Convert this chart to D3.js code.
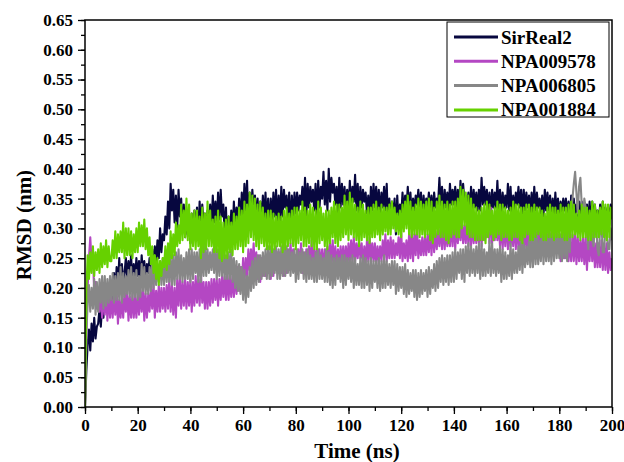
<!DOCTYPE html>
<html><head><meta charset="utf-8">
<script src="https://cdn.jsdelivr.net/npm/d3@7"></script>
<style>body{margin:0;background:#fff}svg{display:block}</style>
</head><body>
<svg id="c" width="624" height="462"></svg>
<script>
// time axis: one sample every 0.5 ns, 0..200
const timeStart = 0, timeStep = 0.5;
const seriesNames = ["SirReal2", "NPA009578", "NPA006805", "NPA001884"];
const xTicks = [0,20,40,60,80,100,120,140,160,180,200];
const yTicks = [0.00,0.05,0.10,0.15,0.20,0.25,0.30,0.35,0.40,0.45,0.50,0.55,0.60,0.65];

const sirReal2 = [
0.000,0.06,0.105,0.13,0.095,0.14,0.11,0.15,0.115,0.135,0.14,0.165,0.135,0.17,0.15,0.185,0.16,0.19,0.17,0.20,
0.205,0.18,0.225,0.19,0.235,0.2,0.25,0.205,0.24,0.21,0.225,0.25,0.215,0.245,0.22,0.255,0.205,0.24,0.215,0.25,
0.22,0.245,0.21,0.255,0.225,0.245,0.215,0.24,0.225,0.25,0.21,0.265,0.235,0.27,0.245,0.28,0.25,0.30,0.26,0.29,
0.28,0.32,0.29,0.345,0.30,0.375,0.33,0.365,0.31,0.355,0.30,0.365,0.32,0.35,0.295,0.34,0.285,0.32,0.29,0.315,
0.275,0.325,0.285,0.33,0.30,0.335,0.28,0.345,0.295,0.34,0.31,0.325,0.29,0.33,0.295,0.34,0.30,0.355,0.31,0.345,
0.30,0.36,0.315,0.365,0.32,0.34,0.29,0.335,0.265,0.32,0.28,0.33,0.29,0.345,0.30,0.335,0.305,0.35,0.31,0.36,
0.32,0.375,0.33,0.38,0.305,0.36,0.315,0.365,0.33,0.355,0.31,0.35,0.30,0.345,0.31,0.355,0.315,0.36,0.305,0.35,
0.30,0.35,0.31,0.36,0.32,0.365,0.31,0.355,0.31,0.37,0.32,0.365,0.335,0.355,0.315,0.36,0.30,0.355,0.315,0.36,
0.325,0.36,0.33,0.355,0.34,0.37,0.33,0.385,0.32,0.375,0.335,0.37,0.345,0.365,0.33,0.375,0.32,0.38,0.335,0.37,
0.35,0.395,0.34,0.38,0.33,0.40,0.345,0.385,0.36,0.375,0.34,0.37,0.325,0.385,0.335,0.375,0.34,0.37,0.33,0.365,
0.325,0.38,0.335,0.37,0.345,0.39,0.33,0.375,0.32,0.37,0.335,0.365,0.345,0.36,0.325,0.355,0.315,0.37,0.33,0.375,
0.335,0.37,0.33,0.365,0.32,0.36,0.335,0.37,0.33,0.375,0.31,0.35,0.30,0.345,0.32,0.35,0.29,0.355,0.31,0.34,
0.32,0.36,0.325,0.355,0.335,0.37,0.325,0.36,0.32,0.35,0.33,0.355,0.34,0.365,0.33,0.36,0.315,0.355,0.325,0.35,
0.335,0.36,0.33,0.355,0.325,0.36,0.335,0.35,0.34,0.385,0.335,0.37,0.32,0.365,0.335,0.36,0.33,0.375,0.34,0.365,
0.34,0.37,0.335,0.365,0.325,0.38,0.34,0.375,0.345,0.355,0.33,0.36,0.32,0.37,0.33,0.365,0.335,0.36,0.33,0.365,
0.33,0.385,0.34,0.37,0.34,0.365,0.33,0.36,0.32,0.365,0.335,0.36,0.335,0.38,0.33,0.365,0.325,0.36,0.335,0.355,
0.335,0.375,0.33,0.37,0.32,0.355,0.33,0.36,0.34,0.37,0.335,0.365,0.325,0.365,0.33,0.36,0.335,0.355,0.325,0.36,
0.325,0.37,0.33,0.36,0.335,0.35,0.325,0.355,0.32,0.365,0.33,0.36,0.33,0.355,0.32,0.35,0.315,0.36,0.325,0.35,
0.32,0.345,0.325,0.35,0.33,0.35,0.32,0.345,0.305,0.355,0.315,0.35,0.325,0.34,0.32,0.345,0.31,0.345,0.315,0.34,
0.32,0.34,0.31,0.345,0.305,0.345,0.315,0.34,0.315,0.33,0.31,0.34,0.31,0.345,0.315,0.335,0.32,0.335,0.315,0.34,
0.325];

const npa009578 = [
0.000,0.12,0.20,0.25,0.285,0.245,0.26,0.19,0.21,0.165,0.20,0.16,0.195,0.15,0.19,0.155,0.195,0.145,0.19,0.15,
0.185,0.15,0.19,0.155,0.195,0.14,0.18,0.15,0.185,0.15,0.195,0.16,0.20,0.145,0.185,0.15,0.19,0.15,0.185,0.15,
0.19,0.155,0.195,0.16,0.205,0.145,0.19,0.15,0.19,0.16,0.20,0.165,0.21,0.15,0.195,0.16,0.205,0.16,0.20,0.165,
0.20,0.16,0.205,0.165,0.215,0.16,0.205,0.155,0.20,0.15,0.215,0.17,0.22,0.165,0.21,0.17,0.215,0.165,0.21,0.17,
0.215,0.16,0.21,0.17,0.22,0.175,0.215,0.17,0.225,0.175,0.21,0.165,0.21,0.165,0.21,0.17,0.215,0.175,0.215,0.18,
0.215,0.17,0.215,0.18,0.22,0.185,0.22,0.18,0.225,0.18,0.22,0.185,0.22,0.185,0.225,0.19,0.235,0.195,0.235,0.20,
0.25,0.21,0.25,0.215,0.265,0.23,0.265,0.235,0.275,0.225,0.26,0.215,0.255,0.21,0.25,0.22,0.25,0.22,0.25,0.225,
0.25,0.215,0.255,0.22,0.265,0.23,0.26,0.225,0.26,0.225,0.265,0.22,0.265,0.225,0.265,0.23,0.275,0.235,0.265,0.23,
0.255,0.225,0.265,0.23,0.275,0.225,0.26,0.23,0.265,0.23,0.27,0.235,0.28,0.23,0.265,0.235,0.27,0.23,0.265,0.235,
0.265,0.23,0.265,0.235,0.27,0.235,0.275,0.24,0.28,0.235,0.27,0.235,0.265,0.24,0.27,0.24,0.27,0.235,0.27,0.24,
0.275,0.24,0.28,0.245,0.285,0.245,0.275,0.25,0.28,0.25,0.275,0.235,0.27,0.24,0.28,0.245,0.285,0.245,0.275,0.245,
0.275,0.24,0.27,0.245,0.27,0.245,0.28,0.25,0.29,0.245,0.28,0.25,0.285,0.25,0.28,0.25,0.275,0.255,0.285,0.25,
0.295,0.245,0.275,0.25,0.28,0.245,0.29,0.25,0.295,0.245,0.29,0.255,0.305,0.25,0.28,0.255,0.285,0.255,0.285,0.255,
0.29,0.26,0.30,0.255,0.305,0.26,0.295,0.265,0.30,0.27,0.305,0.265,0.31,0.265,0.30,0.27,0.30,0.27,0.31,0.27,
0.315,0.265,0.305,0.275,0.31,0.28,0.31,0.275,0.305,0.275,0.32,0.27,0.325,0.27,0.31,0.275,0.305,0.275,0.315,0.275,
0.32,0.27,0.315,0.28,0.32,0.285,0.325,0.275,0.335,0.275,0.315,0.28,0.315,0.28,0.31,0.27,0.31,0.265,0.31,0.27,
0.315,0.265,0.305,0.27,0.30,0.27,0.31,0.265,0.315,0.265,0.30,0.26,0.295,0.265,0.305,0.265,0.305,0.26,0.30,0.265,
0.305,0.255,0.30,0.265,0.30,0.27,0.30,0.26,0.295,0.255,0.295,0.26,0.30,0.26,0.295,0.26,0.295,0.265,0.295,0.26,
0.29,0.245,0.29,0.25,0.295,0.25,0.285,0.245,0.28,0.245,0.29,0.245,0.295,0.24,0.285,0.245,0.28,0.245,0.285,0.24,
0.285,0.23,0.28,0.245,0.29,0.245,0.28,0.235,0.275,0.235,0.275,0.235,0.28,0.23,0.275,0.23,0.275,0.225,0.26,0.23,
0.25];

const npa006805 = [
0.000,0.12,0.175,0.205,0.16,0.20,0.165,0.215,0.155,0.21,0.16,0.215,0.175,0.22,0.165,0.22,0.17,0.215,0.175,0.22,
0.18,0.225,0.175,0.22,0.18,0.225,0.18,0.235,0.175,0.225,0.185,0.22,0.19,0.23,0.185,0.235,0.18,0.225,0.185,0.23,
0.18,0.22,0.185,0.24,0.195,0.235,0.19,0.225,0.19,0.235,0.195,0.245,0.20,0.24,0.205,0.24,0.21,0.245,0.205,0.25,
0.205,0.255,0.21,0.25,0.21,0.255,0.205,0.255,0.205,0.26,0.215,0.265,0.215,0.255,0.21,0.25,0.215,0.26,0.215,0.265,
0.21,0.265,0.215,0.26,0.225,0.26,0.21,0.265,0.21,0.27,0.22,0.275,0.22,0.265,0.225,0.26,0.23,0.265,0.225,0.27,
0.215,0.265,0.22,0.27,0.22,0.26,0.215,0.255,0.215,0.26,0.215,0.265,0.21,0.25,0.20,0.245,0.195,0.24,0.19,0.235,
0.18,0.23,0.175,0.22,0.185,0.235,0.195,0.245,0.20,0.25,0.205,0.255,0.21,0.255,0.215,0.26,0.22,0.265,0.215,0.27,
0.215,0.27,0.22,0.265,0.225,0.27,0.215,0.265,0.215,0.27,0.22,0.275,0.22,0.27,0.225,0.265,0.22,0.26,0.225,0.265,
0.21,0.265,0.215,0.26,0.225,0.265,0.215,0.26,0.21,0.265,0.215,0.255,0.215,0.25,0.21,0.26,0.21,0.265,0.215,0.255,
0.215,0.25,0.21,0.265,0.21,0.26,0.205,0.255,0.20,0.25,0.205,0.255,0.215,0.25,0.21,0.255,0.20,0.255,0.205,0.25,
0.215,0.25,0.21,0.255,0.20,0.25,0.205,0.24,0.205,0.25,0.20,0.255,0.20,0.25,0.205,0.245,0.195,0.25,0.20,0.245,
0.21,0.245,0.20,0.25,0.195,0.245,0.20,0.255,0.20,0.245,0.205,0.24,0.20,0.245,0.205,0.245,0.19,0.24,0.195,0.235,
0.20,0.235,0.19,0.24,0.185,0.23,0.19,0.225,0.195,0.23,0.185,0.23,0.18,0.225,0.185,0.23,0.19,0.225,0.195,0.23,
0.185,0.235,0.19,0.23,0.20,0.24,0.195,0.245,0.20,0.25,0.21,0.255,0.205,0.25,0.21,0.255,0.205,0.255,0.21,0.26,
0.21,0.265,0.215,0.26,0.225,0.265,0.215,0.265,0.21,0.27,0.225,0.275,0.22,0.27,0.225,0.265,0.22,0.27,0.225,0.275,
0.215,0.275,0.22,0.265,0.22,0.26,0.225,0.28,0.22,0.275,0.225,0.265,0.22,0.265,0.225,0.27,0.21,0.265,0.215,0.26,
0.215,0.255,0.22,0.275,0.215,0.265,0.225,0.26,0.225,0.27,0.23,0.285,0.225,0.275,0.235,0.27,0.24,0.28,0.235,0.285,
0.235,0.295,0.24,0.285,0.24,0.28,0.245,0.30,0.24,0.29,0.245,0.285,0.245,0.29,0.24,0.30,0.245,0.295,0.25,0.29,
0.25,0.29,0.245,0.305,0.25,0.30,0.245,0.315,0.26,0.33,0.35,0.375,0.395,0.36,0.325,0.37,0.385,0.34,0.315,0.35,
0.335,0.29,0.265,0.32,0.325,0.28,0.27,0.31,0.305,0.265,0.255,0.30,0.31,0.26,0.26,0.305,0.30,0.265,0.265,0.30,
0.28];

const npa001884 = [
0.000,0.19,0.255,0.215,0.26,0.225,0.27,0.22,0.26,0.23,0.265,0.225,0.275,0.235,0.27,0.24,0.28,0.235,0.27,0.245,
0.245,0.28,0.25,0.295,0.25,0.29,0.26,0.295,0.26,0.31,0.25,0.30,0.255,0.30,0.255,0.295,0.25,0.29,0.26,0.30,
0.26,0.31,0.27,0.305,0.27,0.315,0.265,0.30,0.255,0.285,0.24,0.27,0.225,0.255,0.215,0.25,0.205,0.245,0.22,0.25,
0.235,0.27,0.23,0.275,0.24,0.295,0.25,0.29,0.255,0.31,0.27,0.305,0.275,0.34,0.28,0.33,0.285,0.35,0.28,0.34,
0.265,0.325,0.27,0.33,0.265,0.33,0.27,0.32,0.25,0.335,0.26,0.325,0.265,0.345,0.27,0.33,0.27,0.315,0.26,0.32,
0.26,0.33,0.25,0.32,0.245,0.31,0.25,0.315,0.25,0.32,0.26,0.31,0.255,0.325,0.265,0.32,0.265,0.335,0.27,0.33,
0.26,0.345,0.27,0.34,0.275,0.36,0.285,0.355,0.28,0.35,0.27,0.34,0.265,0.345,0.275,0.335,0.27,0.325,0.265,0.33,
0.265,0.33,0.26,0.325,0.265,0.32,0.27,0.325,0.27,0.32,0.26,0.33,0.265,0.335,0.27,0.325,0.275,0.33,0.27,0.335,
0.265,0.335,0.275,0.33,0.28,0.345,0.27,0.335,0.27,0.33,0.275,0.34,0.27,0.335,0.265,0.33,0.265,0.345,0.275,0.335,
0.28,0.325,0.27,0.33,0.265,0.33,0.275,0.335,0.285,0.345,0.275,0.34,0.27,0.34,0.28,0.335,0.285,0.355,0.29,0.345,
0.28,0.36,0.29,0.35,0.285,0.34,0.28,0.335,0.27,0.345,0.28,0.34,0.285,0.33,0.28,0.335,0.275,0.335,0.285,0.34,
0.285,0.345,0.29,0.335,0.28,0.34,0.29,0.335,0.295,0.335,0.29,0.34,0.29,0.345,0.30,0.335,0.295,0.325,0.29,0.33,
0.285,0.34,0.295,0.345,0.30,0.355,0.29,0.345,0.285,0.335,0.29,0.34,0.29,0.35,0.285,0.345,0.29,0.34,0.285,0.345,
0.29,0.35,0.28,0.345,0.275,0.335,0.285,0.345,0.29,0.355,0.285,0.345,0.285,0.34,0.28,0.345,0.275,0.34,0.285,0.345,
0.29,0.345,0.285,0.35,0.285,0.37,0.30,0.365,0.305,0.36,0.29,0.355,0.285,0.35,0.285,0.34,0.28,0.335,0.28,0.33,
0.28,0.335,0.28,0.34,0.275,0.345,0.285,0.34,0.29,0.33,0.28,0.335,0.285,0.345,0.29,0.34,0.28,0.34,0.285,0.335,
0.285,0.33,0.28,0.335,0.28,0.345,0.285,0.34,0.285,0.34,0.28,0.335,0.275,0.335,0.285,0.34,0.29,0.34,0.28,0.335,
0.28,0.34,0.285,0.335,0.29,0.335,0.285,0.33,0.28,0.325,0.28,0.335,0.285,0.34,0.285,0.335,0.28,0.335,0.285,0.33,
0.285,0.34,0.285,0.335,0.28,0.335,0.28,0.34,0.285,0.345,0.285,0.34,0.29,0.325,0.285,0.33,0.28,0.34,0.285,0.335,
0.285,0.335,0.28,0.33,0.28,0.345,0.285,0.34,0.285,0.33,0.285,0.335,0.29,0.345,0.285,0.34,0.28,0.34,0.285,0.335,
0.315];

const seriesColors = ["#07073f", "#b447c3", "#878787", "#66d100"];
const seriesValues = [sirReal2, npa009578, npa006805, npa001884];

const svg = d3.select("#c");
const L = 85, R = 612, T = 20, B = 407;
const x = d3.scaleLinear().domain([0, 200]).range([L, R]);
const y = d3.scaleLinear().domain([0, 0.65]).range([B, T]);
const font = "'Liberation Serif','Times New Roman',serif";

// series lines
const line = d3.line().x((d, i) => x(timeStart + i * timeStep)).y(d => y(d));
svg.append("clipPath").attr("id", "cp").append("rect")
  .attr("x", L).attr("y", T).attr("width", R - L).attr("height", B - T);
const g = svg.append("g").attr("clip-path", "url(#cp)");
seriesValues.forEach((vals, k) => {
  g.append("path").attr("d", line(vals)).attr("fill", "none")
    .attr("stroke", seriesColors[k]).attr("stroke-width", 2.1)
    .attr("stroke-linejoin", "round");
});

// frame
svg.append("rect").attr("x", L).attr("y", T).attr("width", R - L).attr("height", B - T)
  .attr("fill", "none").attr("stroke", "#000").attr("stroke-width", 1.5);

// axes
const xMinor = d3.range(0, 201, 10);
const yMinor = d3.range(0, 0.651, 0.025);
const xAx = svg.append("g").attr("transform", `translate(0,${B})`)
  .call(d3.axisBottom(x).tickValues(xMinor).tickSize(4).tickFormat(""));
xAx.select(".domain").remove();
const xAxM = svg.append("g").attr("transform", `translate(0,${B})`)
  .call(d3.axisBottom(x).tickValues(xTicks).tickSize(7).tickPadding(5).tickFormat(d3.format("d")));
xAxM.select(".domain").remove();
const yAx = svg.append("g").attr("transform", `translate(${L},0)`)
  .call(d3.axisLeft(y).tickValues(yMinor).tickSize(4).tickFormat(""));
yAx.select(".domain").remove();
const yAxM = svg.append("g").attr("transform", `translate(${L},0)`)
  .call(d3.axisLeft(y).tickValues(yTicks).tickSize(7).tickPadding(5).tickFormat(d3.format(".2f")));
yAxM.select(".domain").remove();
svg.selectAll(".tick line").attr("stroke", "#000").attr("stroke-width", 1.3);
svg.selectAll(".tick text").attr("font-family", font).attr("font-weight", "bold")
  .attr("font-size", 17).attr("fill", "#000");

// axis titles
svg.append("text").attr("x", 357).attr("y", 458).attr("text-anchor", "middle")
  .attr("font-family", font).attr("font-weight", "bold").attr("font-size", 21).text("Time (ns)");
svg.append("text").attr("transform", `translate(31,225) rotate(-90)`)
  .attr("text-anchor", "middle").attr("font-family", font).attr("font-weight", "bold")
  .attr("font-size", 21).text("RMSD (nm)");

// legend
const lg = svg.append("g");
lg.append("rect").attr("x", 447).attr("y", 22).attr("width", 162).attr("height", 95)
  .attr("fill", "#fff").attr("stroke", "#000").attr("stroke-width", 1);
seriesNames.forEach((n, k) => {
  const yy = 37 + k * 24.3;
  lg.append("line").attr("x1", 454).attr("x2", 498).attr("y1", yy).attr("y2", yy)
    .attr("stroke", seriesColors[k]).attr("stroke-width", 3);
  lg.append("text").attr("x", 501).attr("y", yy + 6.5).attr("font-family", font)
    .attr("font-weight", "bold").attr("font-size", 19).text(n);
});
</script>
</body></html>
